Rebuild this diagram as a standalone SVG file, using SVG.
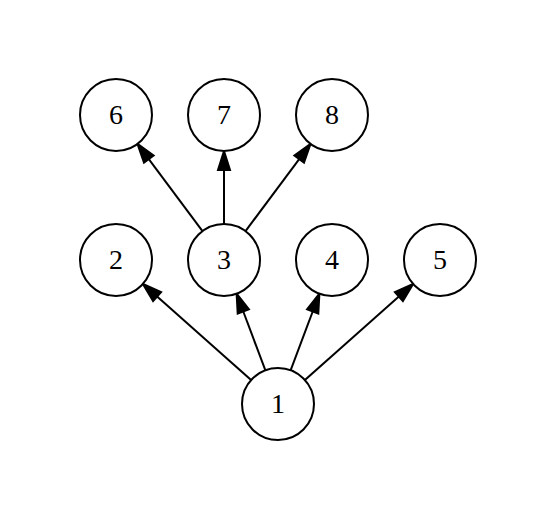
<svg xmlns="http://www.w3.org/2000/svg" width="556" height="520" viewBox="0 0 556 520">
<style>
.node circle{fill:#fff;stroke:#000;stroke-width:2}
.node text{font-family:"Liberation Serif","Times New Roman",serif;font-size:28px;text-anchor:middle;fill:#000}
.edge line{stroke:#000;stroke-width:2}
.edge polygon{fill:#000;stroke:#000;stroke-width:2;stroke-linejoin:miter}
</style>
<rect width="556" height="520" fill="#fff"/>
<g id="edges">
<g class="edge"><line x1="202.5" y1="231.1" x2="148.8" y2="159.1"/><polygon points="137.5,143.9 153.6,155.5 144.0,162.7"/></g>
<g class="edge"><line x1="224" y1="224" x2="224" y2="170"/><polygon points="224,151 230,170 218,170"/></g>
<g class="edge"><line x1="245.5" y1="231.1" x2="299.2" y2="159.1"/><polygon points="310.5,143.9 304.0,162.7 294.4,155.5"/></g>
<g class="edge"><line x1="251.1" y1="380.1" x2="157.1" y2="296.5"/><polygon points="142.9,283.9 161.1,292.0 153.1,301.0"/></g>
<g class="edge"><line x1="265.4" y1="370.3" x2="243.3" y2="311.5"/><polygon points="236.6,293.7 248.9,309.4 237.7,313.6"/></g>
<g class="edge"><line x1="290.6" y1="370.3" x2="312.7" y2="311.5"/><polygon points="319.4,293.7 318.3,313.6 307.1,309.4"/></g>
<g class="edge"><line x1="304.9" y1="380.1" x2="398.9" y2="296.5"/><polygon points="413.1,283.9 402.9,301.0 394.9,292.0"/></g>
</g>
<g id="node6" class="node"><circle cx="116" cy="115" r="36"/><text x="116" y="123.5">6</text></g>
<g id="node7" class="node"><circle cx="224" cy="115" r="36"/><text x="224" y="123.5">7</text></g>
<g id="node8" class="node"><circle cx="332" cy="115" r="36"/><text x="332" y="123.5">8</text></g>
<g id="node2" class="node"><circle cx="116" cy="260" r="36"/><text x="116" y="268.5">2</text></g>
<g id="node3" class="node"><circle cx="224" cy="260" r="36"/><text x="224" y="268.5">3</text></g>
<g id="node4" class="node"><circle cx="332" cy="260" r="36"/><text x="332" y="268.5">4</text></g>
<g id="node5" class="node"><circle cx="440" cy="260" r="36"/><text x="440" y="268.5">5</text></g>
<g id="node1" class="node"><circle cx="278" cy="404" r="36"/><text x="278" y="412.5">1</text></g>
</svg>
